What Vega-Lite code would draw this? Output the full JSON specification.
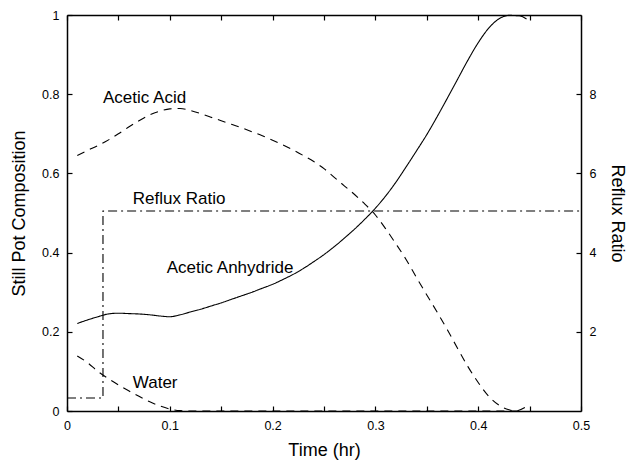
{
  "$schema": "https://vega.github.io/schema/vega-lite/v6.json",
  "width": 514,
  "height": 396,
  "autosize": {"type": "none"},
  "padding": {"left": 67, "top": 15, "right": 59, "bottom": 58},
  "background": "white",
  "config": {
    "font": "Liberation Sans",
    "view": {"stroke": null},
    "axis": {
      "grid": false,
      "domainColor": "black",
      "domainWidth": 1.5,
      "tickColor": "black",
      "tickWidth": 1.2,
      "tickSize": -5,
      "labelColor": "black",
      "labelFontSize": 12.5,
      "labelPadding": 13,
      "labelFlush": false,
      "labelOverlap": false,
      "titleColor": "black",
      "titleFontSize": 18,
      "titleFontWeight": "normal"
    }
  },
  "datasets": {
    "comp": [
      {"s": "Acetic Acid", "t": 0.01, "v": 0.645},
      {"s": "Acetic Acid", "t": 0.02, "v": 0.658},
      {"s": "Acetic Acid", "t": 0.03, "v": 0.670},
      {"s": "Acetic Acid", "t": 0.04, "v": 0.684},
      {"s": "Acetic Acid", "t": 0.05, "v": 0.700},
      {"s": "Acetic Acid", "t": 0.06, "v": 0.717},
      {"s": "Acetic Acid", "t": 0.07, "v": 0.733},
      {"s": "Acetic Acid", "t": 0.08, "v": 0.747},
      {"s": "Acetic Acid", "t": 0.09, "v": 0.757},
      {"s": "Acetic Acid", "t": 0.10, "v": 0.763},
      {"s": "Acetic Acid", "t": 0.11, "v": 0.764},
      {"s": "Acetic Acid", "t": 0.12, "v": 0.759},
      {"s": "Acetic Acid", "t": 0.13, "v": 0.751},
      {"s": "Acetic Acid", "t": 0.14, "v": 0.742},
      {"s": "Acetic Acid", "t": 0.15, "v": 0.733},
      {"s": "Acetic Acid", "t": 0.16, "v": 0.724},
      {"s": "Acetic Acid", "t": 0.17, "v": 0.715},
      {"s": "Acetic Acid", "t": 0.18, "v": 0.705},
      {"s": "Acetic Acid", "t": 0.19, "v": 0.695},
      {"s": "Acetic Acid", "t": 0.20, "v": 0.684},
      {"s": "Acetic Acid", "t": 0.21, "v": 0.672},
      {"s": "Acetic Acid", "t": 0.22, "v": 0.659},
      {"s": "Acetic Acid", "t": 0.23, "v": 0.645},
      {"s": "Acetic Acid", "t": 0.24, "v": 0.630},
      {"s": "Acetic Acid", "t": 0.25, "v": 0.612},
      {"s": "Acetic Acid", "t": 0.26, "v": 0.590},
      {"s": "Acetic Acid", "t": 0.27, "v": 0.568},
      {"s": "Acetic Acid", "t": 0.28, "v": 0.546},
      {"s": "Acetic Acid", "t": 0.29, "v": 0.522},
      {"s": "Acetic Acid", "t": 0.30, "v": 0.495},
      {"s": "Acetic Acid", "t": 0.31, "v": 0.460},
      {"s": "Acetic Acid", "t": 0.32, "v": 0.422},
      {"s": "Acetic Acid", "t": 0.33, "v": 0.382},
      {"s": "Acetic Acid", "t": 0.34, "v": 0.337},
      {"s": "Acetic Acid", "t": 0.35, "v": 0.293},
      {"s": "Acetic Acid", "t": 0.36, "v": 0.250},
      {"s": "Acetic Acid", "t": 0.37, "v": 0.205},
      {"s": "Acetic Acid", "t": 0.38, "v": 0.158},
      {"s": "Acetic Acid", "t": 0.39, "v": 0.112},
      {"s": "Acetic Acid", "t": 0.40, "v": 0.072},
      {"s": "Acetic Acid", "t": 0.41, "v": 0.038},
      {"s": "Acetic Acid", "t": 0.42, "v": 0.015},
      {"s": "Acetic Acid", "t": 0.43, "v": 0.003},
      {"s": "Acetic Acid", "t": 0.436, "v": 0.0},
      {"s": "Acetic Acid", "t": 0.447, "v": 0.011},
      {"s": "Acetic Anhydride", "t": 0.01, "v": 0.221},
      {"s": "Acetic Anhydride", "t": 0.02, "v": 0.230},
      {"s": "Acetic Anhydride", "t": 0.03, "v": 0.238},
      {"s": "Acetic Anhydride", "t": 0.04, "v": 0.245},
      {"s": "Acetic Anhydride", "t": 0.05, "v": 0.247},
      {"s": "Acetic Anhydride", "t": 0.06, "v": 0.246},
      {"s": "Acetic Anhydride", "t": 0.07, "v": 0.245},
      {"s": "Acetic Anhydride", "t": 0.08, "v": 0.243},
      {"s": "Acetic Anhydride", "t": 0.09, "v": 0.240},
      {"s": "Acetic Anhydride", "t": 0.10, "v": 0.238},
      {"s": "Acetic Anhydride", "t": 0.11, "v": 0.243},
      {"s": "Acetic Anhydride", "t": 0.12, "v": 0.250},
      {"s": "Acetic Anhydride", "t": 0.13, "v": 0.257},
      {"s": "Acetic Anhydride", "t": 0.14, "v": 0.265},
      {"s": "Acetic Anhydride", "t": 0.15, "v": 0.273},
      {"s": "Acetic Anhydride", "t": 0.16, "v": 0.282},
      {"s": "Acetic Anhydride", "t": 0.17, "v": 0.291},
      {"s": "Acetic Anhydride", "t": 0.18, "v": 0.300},
      {"s": "Acetic Anhydride", "t": 0.19, "v": 0.310},
      {"s": "Acetic Anhydride", "t": 0.20, "v": 0.320},
      {"s": "Acetic Anhydride", "t": 0.21, "v": 0.332},
      {"s": "Acetic Anhydride", "t": 0.22, "v": 0.345},
      {"s": "Acetic Anhydride", "t": 0.23, "v": 0.360},
      {"s": "Acetic Anhydride", "t": 0.24, "v": 0.377},
      {"s": "Acetic Anhydride", "t": 0.25, "v": 0.395},
      {"s": "Acetic Anhydride", "t": 0.26, "v": 0.415},
      {"s": "Acetic Anhydride", "t": 0.27, "v": 0.437},
      {"s": "Acetic Anhydride", "t": 0.28, "v": 0.460},
      {"s": "Acetic Anhydride", "t": 0.29, "v": 0.485},
      {"s": "Acetic Anhydride", "t": 0.30, "v": 0.512},
      {"s": "Acetic Anhydride", "t": 0.31, "v": 0.543},
      {"s": "Acetic Anhydride", "t": 0.32, "v": 0.578},
      {"s": "Acetic Anhydride", "t": 0.33, "v": 0.617},
      {"s": "Acetic Anhydride", "t": 0.34, "v": 0.657},
      {"s": "Acetic Anhydride", "t": 0.35, "v": 0.698},
      {"s": "Acetic Anhydride", "t": 0.36, "v": 0.743},
      {"s": "Acetic Anhydride", "t": 0.37, "v": 0.790},
      {"s": "Acetic Anhydride", "t": 0.38, "v": 0.838},
      {"s": "Acetic Anhydride", "t": 0.39, "v": 0.886},
      {"s": "Acetic Anhydride", "t": 0.40, "v": 0.930},
      {"s": "Acetic Anhydride", "t": 0.41, "v": 0.966},
      {"s": "Acetic Anhydride", "t": 0.42, "v": 0.990},
      {"s": "Acetic Anhydride", "t": 0.43, "v": 0.999},
      {"s": "Acetic Anhydride", "t": 0.44, "v": 0.998},
      {"s": "Acetic Anhydride", "t": 0.447, "v": 0.990},
      {"s": "Water", "t": 0.01, "v": 0.139},
      {"s": "Water", "t": 0.02, "v": 0.122},
      {"s": "Water", "t": 0.03, "v": 0.100},
      {"s": "Water", "t": 0.04, "v": 0.082},
      {"s": "Water", "t": 0.05, "v": 0.066},
      {"s": "Water", "t": 0.06, "v": 0.051},
      {"s": "Water", "t": 0.07, "v": 0.037},
      {"s": "Water", "t": 0.08, "v": 0.024},
      {"s": "Water", "t": 0.09, "v": 0.013},
      {"s": "Water", "t": 0.10, "v": 0.005},
      {"s": "Water", "t": 0.11, "v": 0.001},
      {"s": "Water", "t": 0.12, "v": 0.0},
      {"s": "Water", "t": 0.44, "v": 0.0}
    ],
    "reflux": [
      {"t": 0.0, "r": 0.33},
      {"t": 0.035, "r": 0.33},
      {"t": 0.035, "r": 5.05},
      {"t": 0.5, "r": 5.05}
    ],
    "labels": [
      {"label": "Acetic Acid", "t": 0.035, "v": 0.79},
      {"label": "Reflux Ratio", "t": 0.064, "v": 0.535},
      {"label": "Acetic Anhydride", "t": 0.097, "v": 0.361},
      {"label": "Water", "t": 0.064, "v": 0.071}
    ]
  },
  "layer": [
    {
      "layer": [
        {
          "data": {"name": "comp"},
          "mark": {"type": "line", "color": "black", "strokeWidth": 1.1, "interpolate": "monotone"},
          "encoding": {
            "x": {
              "field": "t", "type": "quantitative",
              "scale": {"domain": [0, 0.5], "nice": false},
              "axis": {
                "orient": "bottom",
                "title": "Time (hr)",
                "titlePadding": 10,
                "values": [0, 0.05, 0.1, 0.15, 0.2, 0.25, 0.3, 0.35, 0.4, 0.45, 0.5],
                "format": "~g",
                "labelExpr": "round(datum.value * 20) % 2 == 0 ? datum.label : ''"
              }
            },
            "y": {
              "field": "v", "type": "quantitative",
              "scale": {"domain": [0, 1], "nice": false},
              "axis": {
                "orient": "left",
                "title": "Still Pot Composition",
                "titlePadding": 13,
                "values": [0, 0.2, 0.4, 0.6, 0.8, 1],
                "format": "~g"
              }
            },
            "detail": {"field": "s", "type": "nominal"},
            "strokeDash": {
              "field": "s", "type": "nominal",
              "scale": {"domain": ["Acetic Acid", "Acetic Anhydride", "Water"], "range": [[8, 6], [1, 0], [8, 6]]},
              "legend": null
            }
          }
        },
        {
          "data": {"name": "labels"},
          "mark": {"type": "text", "align": "left", "baseline": "middle", "fontSize": 17, "color": "black"},
          "encoding": {
            "x": {"field": "t", "type": "quantitative"},
            "y": {"field": "v", "type": "quantitative"},
            "text": {"field": "label", "type": "nominal"}
          }
        }
      ]
    },
    {
      "data": {"name": "reflux"},
      "mark": {"type": "line", "color": "black", "strokeWidth": 1.1, "strokeDash": [9, 4, 2, 4]},
      "encoding": {
        "x": {
          "field": "t", "type": "quantitative",
          "scale": {"domain": [0, 0.5], "nice": false},
          "axis": {
            "orient": "top",
            "title": null,
            "labels": false,
            "values": [0, 0.05, 0.1, 0.15, 0.2, 0.25, 0.3, 0.35, 0.4, 0.45, 0.5]
          }
        },
        "y": {
          "field": "r", "type": "quantitative",
          "scale": {"domain": [0, 10], "nice": false},
          "axis": {
            "orient": "right",
            "title": "Reflux Ratio",
            "titlePadding": 12,
            "values": [2, 4, 6, 8],
            "format": "~g"
          }
        }
      }
    }
  ],
  "resolve": {"scale": {"y": "independent"}, "axis": {"x": "independent"}}
}
